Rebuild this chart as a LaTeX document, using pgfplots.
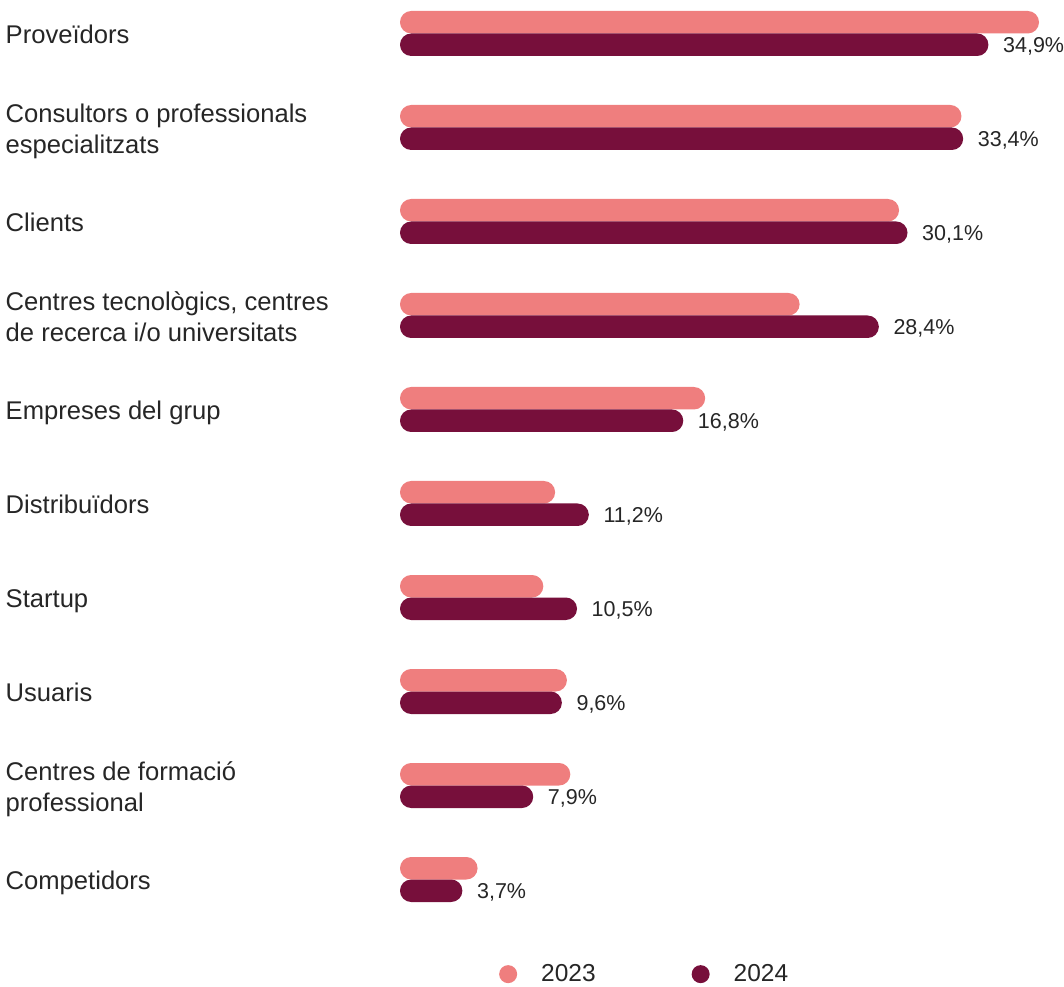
\documentclass[border=0pt]{standalone}
\usepackage{pgfplots}
\pgfplotsset{compat=1.18}
\usepackage{fontspec}
\setmainfont{Liberation Sans}
\definecolor{c23}{HTML}{EF7E7E}
\definecolor{c24}{HTML}{770F3B}
\begin{document}
\begin{tikzpicture}[x=1pt,y=1pt]
\begin{axis}[
  at={(400pt,59.5pt)}, anchor=south west,
  scale only axis, width=664.3pt, height=940pt,
  xmin=0, xmax=39.4, ymin=-0.5, ymax=9.5,
  xbar, bar width=22.5pt,
  axis line style={draw=none}, major tick length=0pt,
  xtick=\empty,
  ytick={0,...,9},
  yticklabels={
    {\strut Competidors},
    {\strut Centres de formació\\\strut professional},
    {\strut Usuaris},
    {\strut Startup},
    {\strut Distribuïdors},
    {\strut Empreses del grup},
    {\strut Centres tecnològics, centres\\\strut de recerca i/o universitats},
    {\strut Clients},
    {\strut Consultors o professionals\\\strut especialitzats},
    {\strut Proveïdors}},
  yticklabel style={anchor=west, align=left, inner sep=0pt, xshift=-394.5pt, yshift=-4pt,
    font=\fontsize{25.6}{31.5}\selectfont, text=black!85},
  /pgf/number format/assume math mode=true,
  legend style={draw=none, fill=none, at={(0.3668,-0.0402)}, anchor=center,
    legend columns=2, font=\fontsize{24.5}{26}\selectfont, text=black!85,
    nodes={inner sep=0pt},
    /tikz/every odd column/.append style={column sep=24pt},
    /tikz/every even column/.append style={column sep=96pt}},
]
\addplot[fill=c23, draw=none, bar shift=11.25pt, rounded corners=11.2pt,
  legend image code/.code={\fill[c23] (0pt,0pt) circle (9pt); \path (0pt,29pt);}]
  coordinates {(4.6,0) (10.1,1) (9.9,2) (8.5,3) (9.2,4) (18.1,5) (23.7,6) (29.6,7) (33.3,8) (37.9,9)};
\addlegendentry{2023}
\addplot[fill=c24, draw=none, bar shift=-11.25pt, rounded corners=11.2pt,
  legend image code/.code={\fill[c24] (0pt,0pt) circle (9pt); \path (0pt,29pt);},
  point meta=x,
  nodes near coords={\pgfmathprintnumber[fixed,fixed zerofill,precision=1,use comma]{\pgfplotspointmeta}\%},
  nodes near coords style={anchor=base west, inner sep=0pt, xshift=14.5pt, yshift=-7.7pt,
    font=\fontsize{21.5}{25}\selectfont, text=black!85}]
  coordinates {(3.7,0) (7.9,1) (9.6,2) (10.5,3) (11.2,4) (16.8,5) (28.4,6) (30.1,7) (33.4,8) (34.9,9)};
\addlegendentry{2024}
\end{axis}
\pgfresetboundingbox
\useasboundingbox (0,0) rectangle (1064,986);
\end{tikzpicture}
\end{document}
